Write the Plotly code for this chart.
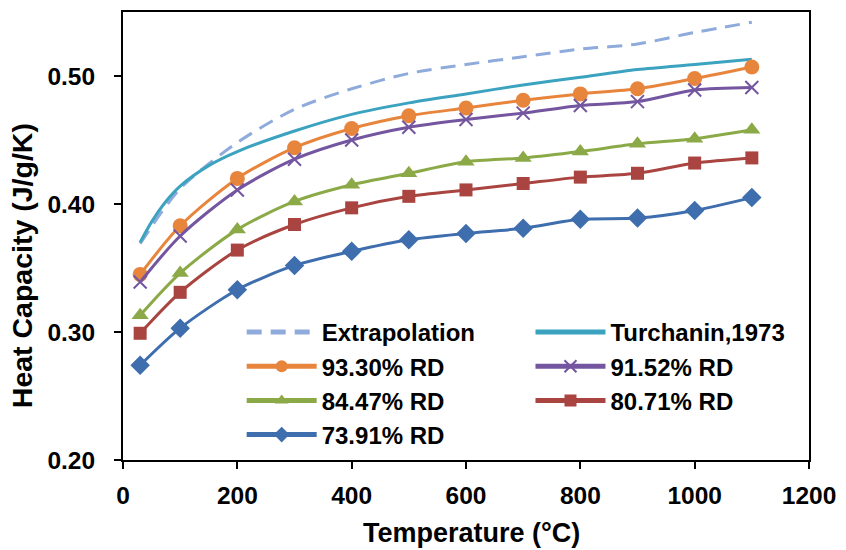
import plotly.graph_objects as go

temps = [30, 100, 200, 300, 400, 500, 600, 700, 800, 900, 1000, 1100]
turch_t = [30, 50, 75, 100, 150, 200, 300, 400, 500, 600, 700, 800, 900, 1000, 1100]
turch = [0.370, 0.386, 0.402, 0.414, 0.430, 0.441, 0.457, 0.470, 0.479, 0.486, 0.493, 0.499, 0.505, 0.509, 0.513]
extrap = [0.369, 0.412, 0.448, 0.474, 0.490, 0.502, 0.509, 0.515, 0.521, 0.525, 0.534, 0.542]
rd_9330 = [0.345, 0.383, 0.420, 0.444, 0.459, 0.469, 0.475, 0.481, 0.486, 0.490, 0.498, 0.507]
rd_9152 = [0.339, 0.375, 0.411, 0.435, 0.450, 0.460, 0.466, 0.471, 0.477, 0.480, 0.489, 0.491]
rd_8447 = [0.313, 0.346, 0.380, 0.402, 0.415, 0.424, 0.433, 0.436, 0.441, 0.447, 0.451, 0.458]
rd_8071 = [0.299, 0.331, 0.364, 0.384, 0.397, 0.406, 0.411, 0.416, 0.421, 0.424, 0.432, 0.436]
rd_7391 = [0.274, 0.303, 0.333, 0.352, 0.363, 0.372, 0.377, 0.381, 0.388, 0.389, 0.395, 0.405]

x_title = "Temperature (°C)"
y_title = "Heat Capacity (J/g/K)"

FONT = "Liberation Sans"
fig = go.Figure()

def add(x, y, name, color, symbol=None, dash="solid", legend="legend", msize=12, shape="spline"):
    mode = "lines+markers" if symbol else "lines"
    kw = {}
    if symbol:
        kw["marker"] = dict(symbol=symbol, size=msize, color=color,
                            line=dict(color=color, width=2 if symbol == "x-thin" else 0))
    fig.add_trace(go.Scatter(x=x, y=y, name=name, mode=mode,
                             line=dict(color=color, width=3, dash=dash, shape=shape, smoothing=0.8),
                             legend=legend, **kw))

add(temps, extrap, "Extrapolation", "#8EABDB", dash="15px,9px", legend="legend")
add(turch_t, turch, "Turchanin,1973", "#3BA3C0", legend="legend2")
add(temps, rd_9330, "93.30% RD", "#E8853D", symbol="circle", legend="legend", msize=15)
add(temps, rd_9152, "91.52% RD", "#7456A0", symbol="x-thin", legend="legend2", msize=13)
add(temps, rd_8447, "84.47% RD", "#8BAA47", symbol="triangle-up", legend="legend", msize=15)
add(temps, rd_8071, "80.71% RD", "#A94440", symbol="square", legend="legend2", msize=13)
add(temps, rd_7391, "73.91% RD", "#3E6EAD", symbol="diamond", legend="legend", msize=15)

legend_common = dict(font=dict(family=FONT, size=24, color="black", weight="bold"),
                     bgcolor="rgba(0,0,0,0)", itemwidth=70, tracegroupgap=0,
                     xanchor="left", yanchor="top", traceorder="normal",
                     itemsizing="constant")

axis_common = dict(showgrid=False, zeroline=False, showline=True, linecolor="black", linewidth=2,
                   mirror=True, ticks="outside", ticklen=7, tickwidth=2, tickcolor="black",
                   tickfont=dict(family=FONT, size=24.5, weight="bold"))

fig.update_layout(
    width=846, height=550,
    margin=dict(l=123, r=35, t=10, b=90),
    paper_bgcolor="white", plot_bgcolor="white",
    font=dict(family=FONT, size=24, color="black", weight="bold"),
    showlegend=True,
    legend=dict(x=0.173, y=0.335, **legend_common),
    legend2=dict(x=0.594, y=0.335, **legend_common),
    xaxis=dict(range=[0, 1200], tickvals=[0, 200, 400, 600, 800, 1000, 1200],
               ticklabelstandoff=6, **axis_common),
    yaxis=dict(range=[0.2, 0.55], tickvals=[0.2, 0.3, 0.4, 0.5], tickformat=".2f",
               ticklabelstandoff=14, **axis_common),
    annotations=[
        dict(text=x_title, xref="paper", yref="paper", x=(472.5 - 123) / 688, y=(460 - 533) / 450,
             xanchor="center", yanchor="middle", showarrow=False,
             font=dict(family=FONT, size=27, weight="bold", color="black")),
        dict(text=y_title, xref="paper", yref="paper", x=(22 - 123) / 688, y=(460 - 265) / 450,
             xanchor="center", yanchor="middle", showarrow=False, textangle=-90,
             font=dict(family=FONT, size=28.5, weight="bold", color="black")),
    ],
)

fig.write_html("out.html")
